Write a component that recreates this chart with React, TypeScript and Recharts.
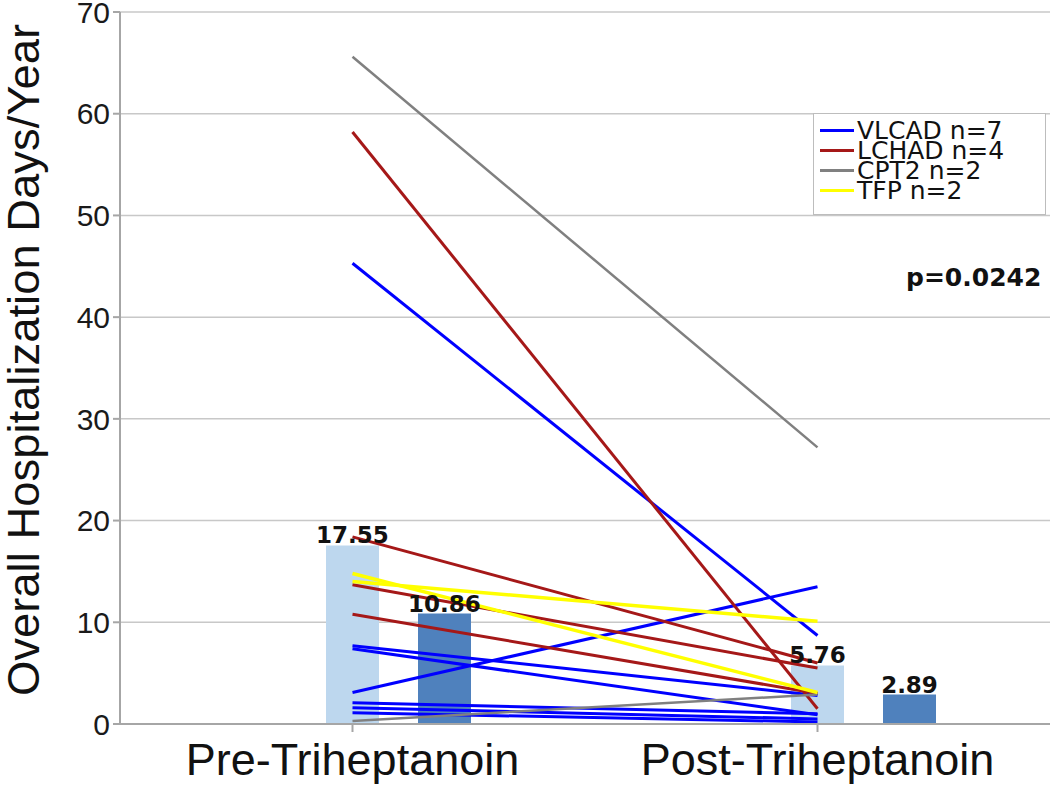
import { Bar, CartesianGrid, ComposedChart, LabelList, Line, XAxis, YAxis } from "recharts";

const categories = ["Pre-Triheptanoin", "Post-Triheptanoin"];
const meanValues = [17.55, 5.76];
const medianValues = [10.86, 2.89];
const yTicks = [0, 10, 20, 30, 40, 50, 60, 70];

// one entry per patient: value before and after
const vlcadPre = [45.3, 7.7, 7.4, 3.1, 2.1, 1.6, 1.1];
const vlcadPost = [8.7, 2.8, 0.9, 13.5, 1.0, 0.5, 0.2];
const lchadPre = [58.2, 18.4, 13.7, 10.8];
const lchadPost = [1.5, 6.0, 5.5, 3.0];
const cpt2Pre = [65.6, 0.3];
const cpt2Post = [27.2, 2.9];
const tfpPre = [14.8, 14.0];
const tfpPost = [3.1, 10.1];

const groups = [
  { key: "vlcad", label: "VLCAD n=7", color: "#0000ff", width: 3, pre: vlcadPre, post: vlcadPost },
  { key: "lchad", label: "LCHAD n=4", color: "#a51818", width: 3, pre: lchadPre, post: lchadPost },
  { key: "cpt2", label: "CPT2 n=2", color: "#808080", width: 2.5, pre: cpt2Pre, post: cpt2Post },
  { key: "tfp", label: "TFP n=2", color: "#ffff00", width: 3.5, pre: tfpPre, post: tfpPost },
];

const rows = categories.map((category, i) => {
  const row: Record<string, any> = {
    category,
    spacer: null,
    mean: meanValues[i],
    median: medianValues[i],
  };
  groups.forEach((g) => {
    g.pre.forEach((v, j) => {
      row[`${g.key}${j}`] = i === 0 ? v : g.post[j];
    });
  });
  return row;
});

const lineKeys = groups.flatMap((g) => g.pre.map((_, j) => ({ id: `${g.key}${j}`, color: g.color, width: g.width })));

const axisColor = "#a6a6a6";
const sans = "'Liberation Sans', Arial, sans-serif";
const dejavu = "'DejaVu Sans', Verdana, sans-serif";

const YLabel = () => {
  const x = 23;
  const y = 360;
  return (
    <text
      x={x}
      y={y}
      transform={`rotate(-90 ${x} ${y})`}
      textAnchor="middle"
      dominantBaseline="central"
      fontSize={44}
      fontFamily={sans}
      textLength={672}
      lengthAdjust="spacingAndGlyphs"
      fill="#111"
    >
      Overall Hospitalization Days/Year
    </text>
  );
};

export default function App() {
  return (
    <div style={{ position: "absolute", left: 0, top: 0, width: 1050, height: 792, background: "#fff" }}>
      <ComposedChart
        width={1050}
        height={792}
        data={rows}
        barGap={39}
        margin={{ top: 12, right: 0, bottom: 0, left: 0 }}
      >
        <CartesianGrid vertical={false} stroke="#c8c8c8" strokeWidth={1.5} />
        <XAxis
          dataKey="category"
          height={68}
          stroke={axisColor}
          strokeWidth={2}
          tickSize={8}
          tickMargin={11}
          tick={{ fill: "#111", fontSize: 45, fontFamily: sans }}
        />
        <YAxis
          width={120}
          domain={[0, 70]}
          ticks={yTicks}
          interval={0}
          stroke={axisColor}
          strokeWidth={2}
          tickSize={7}
          tickMargin={3}
          tick={{ fill: "#1a1a1a", fontSize: 30, fontFamily: sans }}
          label={YLabel}
        />
        <Bar dataKey="spacer" barSize={53} isAnimationActive={false} />
        <Bar dataKey="mean" fill="#bdd7ee" barSize={53} isAnimationActive={false}>
          <LabelList dataKey="mean" position="top" offset={2} fill="#111" fontSize={23} fontWeight="bold" fontFamily={dejavu} />
        </Bar>
        <Bar dataKey="median" fill="#4f81bd" barSize={53} isAnimationActive={false}>
          <LabelList dataKey="median" position="top" offset={2} fill="#111" fontSize={23} fontWeight="bold" fontFamily={dejavu} />
        </Bar>
        {lineKeys.map((l) => (
          <Line
            key={l.id}
            type="linear"
            dataKey={l.id}
            stroke={l.color}
            strokeWidth={l.width}
            dot={false}
            activeDot={false}
            isAnimationActive={false}
          />
        ))}
      </ComposedChart>

      <div
        style={{
          position: "absolute",
          left: 813,
          top: 113,
          width: 231,
          height: 100,
          border: "1.5px solid #bdbdbd",
          background: "#fff",
          fontFamily: dejavu,
        }}
      >
        {groups.map((g, i) => (
          <div key={g.key} style={{ position: "absolute", left: 0, top: 7 + i * 20, height: 20, width: 231 }}>
            <div style={{ position: "absolute", left: 6, top: 8, width: 34, height: 3, background: g.color }} />
            <div style={{ position: "absolute", left: 43, top: 0, fontSize: 25, lineHeight: "20px", color: "#111", whiteSpace: "nowrap" }}>
              {g.label}
            </div>
          </div>
        ))}
      </div>

      <div
        style={{
          position: "absolute",
          left: 906,
          top: 264,
          fontFamily: dejavu,
          fontWeight: "bold",
          fontSize: 25,
          lineHeight: "28px",
          color: "#111",
          whiteSpace: "nowrap",
        }}
      >
        p=0.0242
      </div>
    </div>
  );
}
